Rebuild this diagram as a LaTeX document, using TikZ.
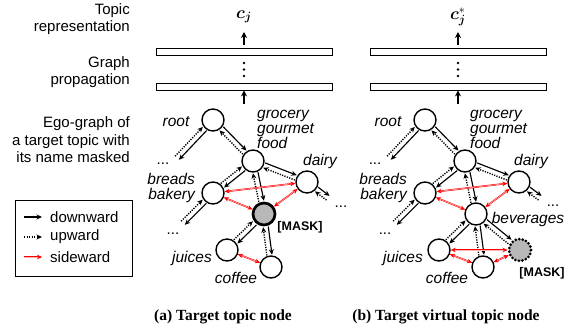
\documentclass[tikz,border=0pt]{standalone}
\usepackage{fontspec}
\usepackage{bm}
\setmainfont{Liberation Serif}
\setsansfont{Liberation Sans}
\usetikzlibrary{calc,arrows.meta}
\newcommand{\offd}{2.6pt}
\newcommand{\biarrow}[4]{%
 \draw[dnarrow, shorten <=#3, shorten >=#4] ($(#1)!\offd!90:(#2)$) -- ($(#2)!\offd!-90:(#1)$);
 \draw[uparrow, shorten <=#4, shorten >=#3] ($(#2)!\offd!90:(#1)$) -- ($(#1)!\offd!-90:(#2)$);
}
\tikzset{
 tip/.style={-{Stealth[length=5.5pt,width=5pt]}},
 dnarrow/.style={tip, line width=1.15pt, black},
 uparrow/.style={tip, line width=1.4pt, black, dash pattern=on 1.2pt off 1.3pt},
 sideline/.style={draw=red, line width=0.5pt, double=red!30, double distance=0.6pt},
 side/.style={sideline, {Stealth[length=5pt,width=4.5pt,red]}-{Stealth[length=5pt,width=4.5pt,red]}},
 topic/.style={circle, draw, line width=1.4pt, minimum size=22pt, inner sep=0pt, fill=white},
 masked/.style={topic, line width=2.7pt, fill=black!28},
 vmasked/.style={topic, line width=3pt, fill=black!28, line cap=round, dash pattern=on 0pt off 3.6pt},
 lab/.style={font=\sffamily\itshape\fontsize{15.5}{15}\selectfont, inner sep=0pt},
 desc/.style={font=\sffamily\fontsize{15}{17.5}\selectfont, align=right, anchor=east, inner sep=0pt},
 bar/.style={draw, line width=0.9pt},
 uptip/.style={-{Stealth[length=6pt,width=6pt]}, line width=1.5pt},
 masklab/.style={font=\sffamily\bfseries\fontsize{12.5}{12.5}\selectfont, inner sep=0pt},
 dotslab/.style={font=\sffamily\fontsize{15}{15}\selectfont, inner sep=0pt, anchor=base},
 capt/.style={font=\bfseries\fontsize{15.5}{15.5}\selectfont, inner sep=0pt},
 clab/.style={font=\fontsize{17}{17}\selectfont, inner sep=0pt},
 vdot/.style={circle, fill=black, inner sep=0pt, minimum size=2.6pt}
}
\begin{document}
\begin{tikzpicture}[x=1pt,y=-1pt]
\useasboundingbox (0,0) rectangle (566,332);
% descriptions
\node[desc] (d1) at (130,19) {Topic\\representation};
\node[desc] (d2) at (130,72) {Graph\\propagation};
\node[desc] (d3) at (130,140) {Ego-graph of\\a target topic with\\its name masked};
% legend
\node[draw, line width=0.8pt, minimum width=117pt, minimum height=76pt, inner sep=0pt] (legend) at (73.5,238) {};
\coordinate (la1) at (24,217); \coordinate (lb1) at (42,217);
\coordinate (la2) at (24,237); \coordinate (lb2) at (42,237);
\coordinate (la3) at (24,257); \coordinate (lb3) at (42,257);
\draw[dnarrow] (la1) -- (lb1);
\draw[uparrow] (la2) -- (lb2);
\draw[sideline, -{Stealth[length=5pt,width=4.5pt,red]}] (la3) -- (lb3);
\node[font=\sffamily\fontsize{15}{15}\selectfont, anchor=west, inner sep=0pt] (t1) at (50,217) {downward};
\node[font=\sffamily\fontsize{15}{15}\selectfont, anchor=west, inner sep=0pt] (t2) at (50,237) {upward};
\node[font=\sffamily\fontsize{15}{15}\selectfont, anchor=west, inner sep=0pt] (t3) at (50,257) {sideward};

% ===== panel (a) =====
\node[clab] (ca) at (244,17) {$\bm{c}_{\bm{j}}$};
\node[bar, minimum width=176pt, minimum height=7pt, inner sep=0pt] (bar1a) at (244,51.5) {};
\node[bar, minimum width=176pt, minimum height=7pt, inner sep=0pt] (bar2a) at (244,86.5) {};
\node[vdot] (va1) at (244,63) {};
\node[vdot] (va2) at (244,69.5) {};
\node[vdot] (va3) at (244,76) {};
\coordinate (aa1) at (244,45); \coordinate (ab1) at (244,32);
\draw[uptip] (aa1) -- (ab1);
\coordinate (ga) at (244,104);
\draw[uptip] (ga) -- (bar2a.south);

\node[topic] (rootA) at (213,120) {};
\node[topic] (grocA) at (253,161) {};
\node[topic] (breadA) at (213,193) {};
\node[topic] (dairyA) at (307,182) {};
\node[masked] (maskA) at (264,214) {};
\node[topic] (juiceA) at (227,250) {};
\node[topic] (coffeeA) at (271,267) {};
\coordinate (l1A) at (177,158);
\coordinate (l2A) at (183,223);
\coordinate (l3A) at (328,198);

\biarrow{rootA}{grocA}{12pt}{12pt}
\biarrow{rootA}{l1A}{12pt}{0pt}
\biarrow{grocA}{breadA}{12pt}{12pt}
\biarrow{breadA}{l2A}{12pt}{0pt}
\biarrow{grocA}{dairyA}{12pt}{12pt}
\biarrow{dairyA}{l3A}{12pt}{0pt}
\biarrow{grocA}{maskA}{12pt}{13pt}
\biarrow{maskA}{juiceA}{13pt}{12pt}
\biarrow{maskA}{coffeeA}{13pt}{12pt}
\draw[side] (breadA) -- (dairyA);
\draw[side] (breadA) -- (maskA);
\draw[side] (dairyA) -- (maskA);
\draw[side] (juiceA) -- (coffeeA);

\node[lab] (lrootA) at (176,122) {root};
\node[lab, anchor=west, align=left] (lgrocA) at (257,129) {grocery\\gourmet\\food};
\node[lab, anchor=east, align=right] (lbreadA) at (195,188) {breads\\bakery};
\node[lab] (ldairyA) at (320,161) {dairy};
\node[lab] (ljuiceA) at (192,258) {juices};
\node[lab] (lcoffeeA) at (236,278) {coffee};
\node[masklab] (lmaskA) at (300,227) {[MASK]};
\node[dotslab] (dt1A) at (163,164) {...};
\node[dotslab] (dt2A) at (173,234) {...};
\node[dotslab] (dt3A) at (341,207) {...};

% ===== panel (b) =====
\node[clab] (cb) at (458,17) {$\bm{c}_{\bm{j}}^{*}$};
\node[bar, minimum width=176pt, minimum height=7pt, inner sep=0pt] (bar1b) at (458,51.5) {};
\node[bar, minimum width=176pt, minimum height=7pt, inner sep=0pt] (bar2b) at (458,86.5) {};
\node[vdot] (vb1) at (458,63) {};
\node[vdot] (vb2) at (458,69.5) {};
\node[vdot] (vb3) at (458,76) {};
\coordinate (ba1) at (458,45); \coordinate (bb1) at (458,32);
\draw[uptip] (ba1) -- (bb1);
\coordinate (gb) at (458,104);
\draw[uptip] (gb) -- (bar2b.south);

\node[topic] (rootB) at (425,120) {};
\node[topic] (grocB) at (465,161) {};
\node[topic] (breadB) at (425,193) {};
\node[topic] (dairyB) at (519,182) {};
\node[topic] (bevB) at (476,214) {};
\node[topic] (juiceB) at (439,250) {};
\node[topic] (coffeeB) at (483,267) {};
\node[vmasked] (maskB) at (520,250) {};
\coordinate (l1B) at (389,158);
\coordinate (l2B) at (395,223);
\coordinate (l3B) at (540,198);

\biarrow{rootB}{grocB}{12pt}{12pt}
\biarrow{rootB}{l1B}{12pt}{0pt}
\biarrow{grocB}{breadB}{12pt}{12pt}
\biarrow{breadB}{l2B}{12pt}{0pt}
\biarrow{grocB}{dairyB}{12pt}{12pt}
\biarrow{dairyB}{l3B}{12pt}{0pt}
\biarrow{grocB}{bevB}{12pt}{12pt}
\biarrow{bevB}{juiceB}{12pt}{12pt}
\biarrow{bevB}{coffeeB}{12pt}{12pt}
\biarrow{bevB}{maskB}{12pt}{13pt}
\draw[side] (breadB) -- (dairyB);
\draw[side] (breadB) -- (bevB);
\draw[side] (dairyB) -- (bevB);
\draw[side] (juiceB) -- (maskB);
\draw[side] (juiceB) -- (coffeeB);
\draw[side] (coffeeB) -- (maskB);

\node[lab] (lrootB) at (388,122) {root};
\node[lab, anchor=west, align=left] (lgrocB) at (470,129) {grocery\\gourmet\\food};
\node[lab, anchor=east, align=right] (lbreadB) at (407,188) {breads\\bakery};
\node[lab] (ldairyB) at (531,161) {dairy};
\node[lab] (lbevB) at (528,219.5) {beverages};
\node[lab] (ljuiceB) at (403,258) {juices};
\node[lab] (lcoffeeB) at (447,278) {coffee};
\node[masklab] (lmaskB) at (542,273) {[MASK]};
\node[dotslab] (dt1B) at (375,164) {...};
\node[dotslab] (dt2B) at (385,234) {...};
\node[dotslab] (dt3B) at (553,206) {...};

% captions
\node[capt] (capA) at (223,317) {(a) Target topic node};
\node[capt] (capB) at (446,317) {(b) Target virtual topic node};
\end{tikzpicture}
\end{document}
